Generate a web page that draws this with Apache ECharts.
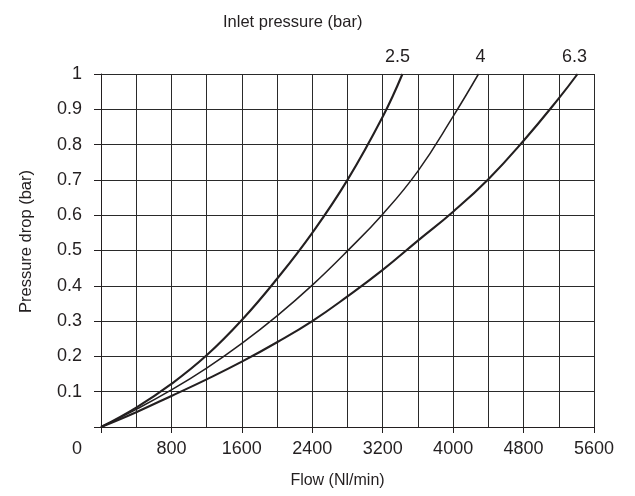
<!DOCTYPE html>
<html>
<head>
<meta charset="utf-8">
<script src="https://cdn.jsdelivr.net/npm/echarts@6/dist/echarts.min.js"></script>
<style>
html,body{margin:0;padding:0;background:#fff;}
#chart{width:635px;height:496px;}
</style>
</head>
<body>
<div id="chart"></div>
<script>
// Data
var seriesNames = ['2.5', '4', '6.3'];
var flow25 = [0, 400, 800, 1200, 1600, 2000, 2400, 2800, 3200, 3424];
var drop25 = [0, 0.055, 0.122, 0.203, 0.303, 0.42, 0.55, 0.70, 0.879, 1.0];
var flow4 = [0, 400, 800, 1200, 1600, 2000, 2400, 2800, 3200, 3600, 4000, 4288];
var drop4 = [0, 0.05, 0.105, 0.167, 0.237, 0.315, 0.402, 0.499, 0.603, 0.725, 0.88, 1.0];
var flow63 = [0, 400, 800, 1200, 1600, 2000, 2400, 2800, 3200, 3600, 4000, 4400, 4800, 5200, 5413];
var drop63 = [0, 0.042, 0.088, 0.135, 0.185, 0.24, 0.30, 0.37, 0.445, 0.528, 0.61, 0.702, 0.811, 0.931, 1.0];
var xTitle = 'Flow (Nl/min)';
var yTitle = 'Pressure drop (bar)';
var topTitle = 'Inlet pressure (bar)';

var FONT = '"Liberation Sans", Arial, Helvetica, sans-serif';
var INK = '#231f20';

function pairs(xs, ys) {
  return xs.map(function (x, i) { return [x, ys[i]]; });
}

function endMark(xs, ys, name, dx) {
  var n = xs.length - 1;
  return {
    silent: true,
    symbol: 'circle', symbolSize: 0,
    label: {
      show: true, position: 'top', distance: 8, offset: [dx, 0],
      formatter: name, fontSize: 18, color: INK, fontFamily: FONT
    },
    data: [{ coord: [xs[n], ys[n]] }]
  };
}

var chart = echarts.init(document.getElementById('chart'), null, { renderer: 'canvas' });
var gridLine = { show: true, lineStyle: { color: '#2a2a2a', width: 1, type: 'solid' } };

chart.setOption({
  animation: false,
  backgroundColor: '#fff',
  textStyle: { fontFamily: FONT, color: INK },
  grid: { left: 101, right: 41, top: 74, bottom: 69, containLabel: false },
  graphic: [{
    type: 'text', left: 223, top: 14,
    style: { text: topTitle, fill: INK, font: '16.5px ' + FONT }
  }],
  xAxis: {
    type: 'value', min: 0, max: 5600, interval: 800,
    name: xTitle, nameLocation: 'middle', nameGap: 46,
    nameTextStyle: { fontSize: 16, color: INK, fontFamily: FONT, padding: [0, 20, 0, 0] },
    axisLine: { show: true, onZero: false, lineStyle: { color: INK, width: 1 } },
    axisTick: { show: true, length: 6, inside: false, lineStyle: { color: INK, width: 1 } },
    axisLabel: {
      margin: 13, fontSize: 18, color: INK, fontFamily: FONT,
      formatter: function (v) { return v === 0 ? '' : String(v); }
    },
    splitLine: gridLine,
    minorTick: { show: false, splitNumber: 2 },
    minorSplitLine: { show: true, lineStyle: { color: '#2a2a2a', width: 1 } }
  },
  yAxis: {
    type: 'value', min: 0, max: 1, interval: 0.1,
    name: yTitle, nameLocation: 'middle', nameGap: 66, nameRotate: 90,
    nameTextStyle: { fontSize: 16.5, color: INK, fontFamily: FONT, padding: [0, 0, 0, 18] },
    axisLine: { show: true, onZero: false, lineStyle: { color: INK, width: 1 } },
    axisTick: { show: true, length: 7, inside: false, lineStyle: { color: INK, width: 1 } },
    axisLabel: {
      margin: 19, fontSize: 18, color: INK, fontFamily: FONT,
      formatter: function (v) { return v === 0 ? '{z|0}' : String(+v.toFixed(1)); },
      rich: { z: { fontSize: 18, color: INK, fontFamily: FONT, padding: [44, 0, 0, 0] } }
    },
    splitLine: gridLine
  },
  series: [
    { name: seriesNames[0], type: 'line', data: pairs(flow25, drop25),
      smooth: 0.45, showSymbol: false, symbol: 'none',
      lineStyle: { color: INK, width: 2.1 }, markPoint: endMark(flow25, drop25, seriesNames[0], -5) },
    { name: seriesNames[1], type: 'line', data: pairs(flow4, drop4),
      smooth: 0.45, showSymbol: false, symbol: 'none',
      lineStyle: { color: INK, width: 1.5 }, markPoint: endMark(flow4, drop4, seriesNames[1], 2) },
    { name: seriesNames[2], type: 'line', data: pairs(flow63, drop63),
      smooth: 0.45, showSymbol: false, symbol: 'none',
      lineStyle: { color: INK, width: 2.1 }, markPoint: endMark(flow63, drop63, seriesNames[2], -3) }
  ]
});
</script>
</body>
</html>
